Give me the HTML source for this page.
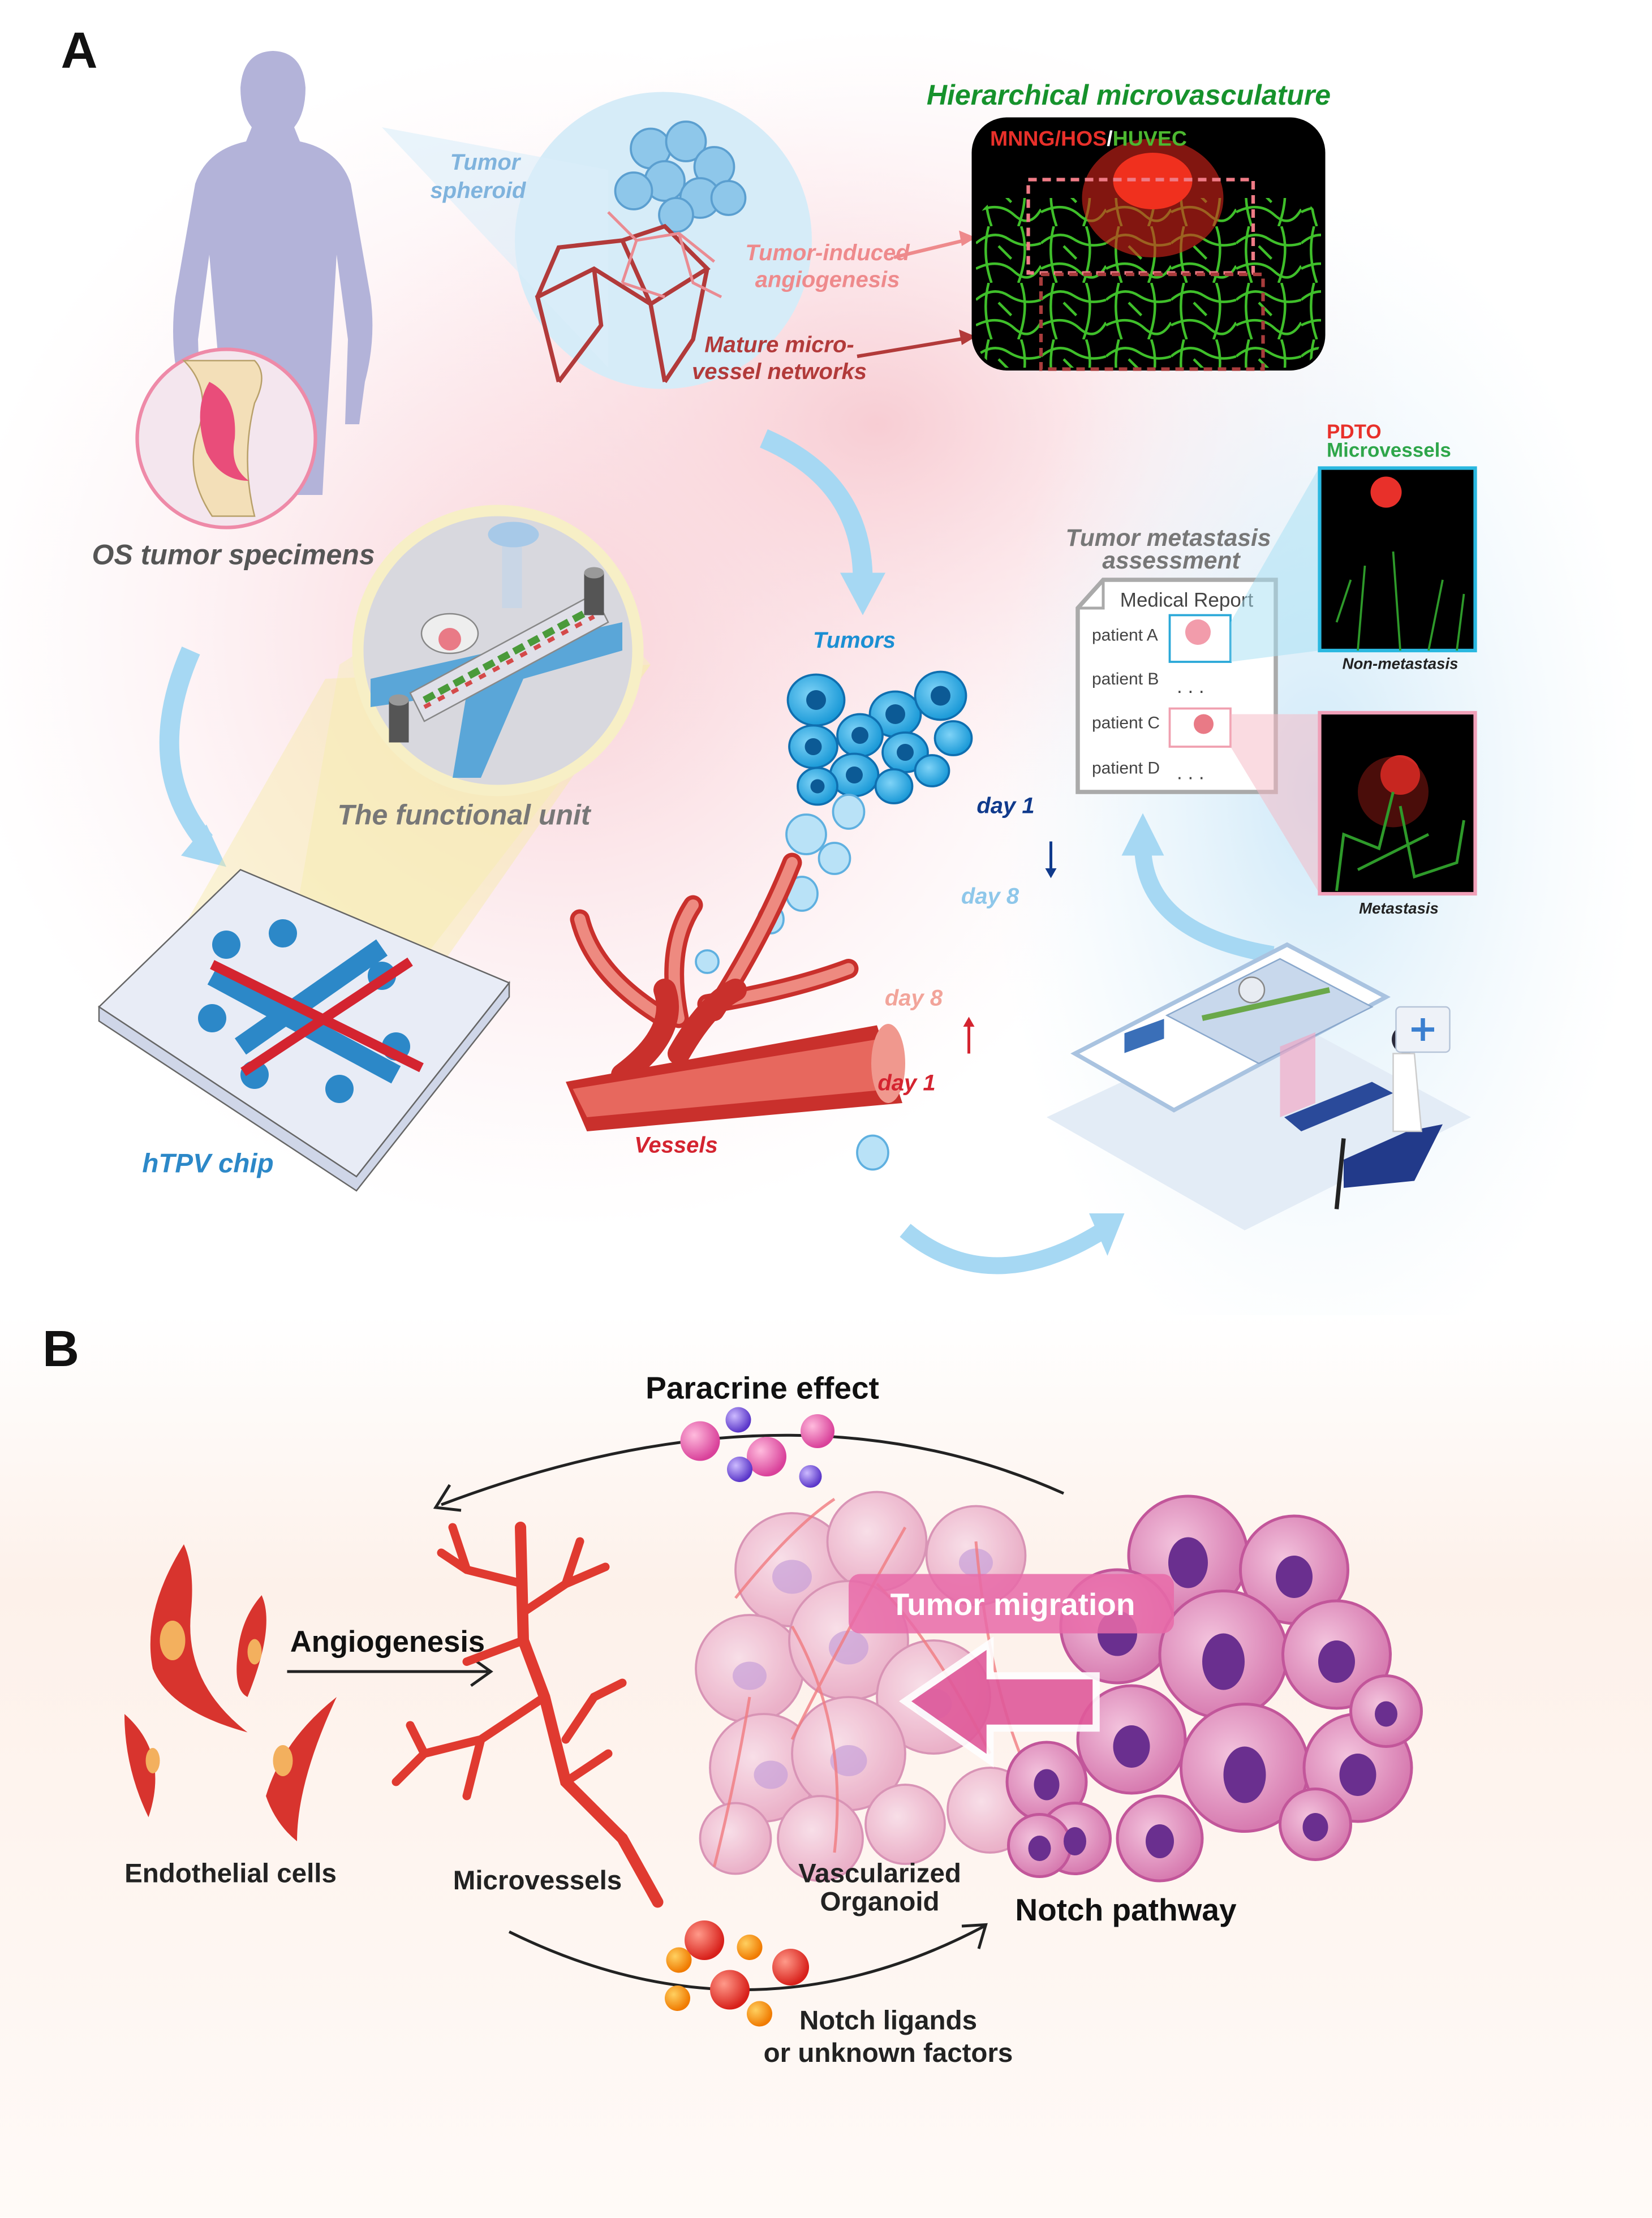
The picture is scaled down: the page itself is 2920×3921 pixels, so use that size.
<!DOCTYPE html>
<html><head><meta charset="utf-8"><style>
html,body{margin:0;padding:0;background:#fff}
svg{display:block}
text{font-family:"Liberation Sans",Arial,sans-serif}
</style></head><body>
<svg width="2920" height="3921" viewBox="0 0 1168 1568.4" xmlns="http://www.w3.org/2000/svg">
<defs>
<radialGradient id="pinkbg" cx="0.5" cy="0.5" r="0.5"><stop offset="0" stop-color="#f7c9d0" stop-opacity="0.9"/><stop offset="1" stop-color="#fde8ec" stop-opacity="0"/></radialGradient>
<radialGradient id="bluebg" cx="0.5" cy="0.5" r="0.5"><stop offset="0" stop-color="#cfe9f8"/><stop offset="1" stop-color="#eaf5fc" stop-opacity="0"/></radialGradient>
<linearGradient id="bbg" x1="0" y1="0" x2="0" y2="1"><stop offset="0" stop-color="#fff"/><stop offset="0.3" stop-color="#fdf1ea"/><stop offset="1" stop-color="#fffaf7"/></linearGradient>
<radialGradient id="cellP" cx="0.4" cy="0.4" r="0.6"><stop offset="0" stop-color="#f3c3dd"/><stop offset="1" stop-color="#d77bb0"/></radialGradient>
<radialGradient id="cellL" cx="0.4" cy="0.4" r="0.6"><stop offset="0" stop-color="#f8dde8"/><stop offset="1" stop-color="#e9a9c4"/></radialGradient>
<radialGradient id="sph1" cx="0.35" cy="0.35" r="0.65"><stop offset="0" stop-color="#fbd"/><stop offset="1" stop-color="#d9419a"/></radialGradient>
<radialGradient id="sph2" cx="0.35" cy="0.35" r="0.65"><stop offset="0" stop-color="#ccbaff"/><stop offset="1" stop-color="#5a36c9"/></radialGradient>
<radialGradient id="sph3" cx="0.35" cy="0.35" r="0.65"><stop offset="0" stop-color="#ff9a8a"/><stop offset="1" stop-color="#d8201a"/></radialGradient>
<radialGradient id="sph4" cx="0.35" cy="0.35" r="0.65"><stop offset="0" stop-color="#ffd060"/><stop offset="1" stop-color="#f07a00"/></radialGradient>
<radialGradient id="blueCell" cx="0.4" cy="0.4" r="0.6"><stop offset="0" stop-color="#7fd3f7"/><stop offset="1" stop-color="#1b9ad8"/></radialGradient>
<pattern id="net" width="46" height="40" patternUnits="userSpaceOnUse">
<path d="M0 12 Q12 2 23 9 T46 12 M9 0 Q4 20 11 40 M32 0 Q38 18 30 40 M0 30 Q16 22 27 32 T46 28 M16 14 L25 23" stroke="#3fbf2a" stroke-width="1.8" fill="none"/>
</pattern>
</defs>

<rect width="1168" height="1568.4" fill="#fff"/>
<ellipse cx="400" cy="450" rx="430" ry="420" fill="url(#pinkbg)"/>
<ellipse cx="620" cy="300" rx="380" ry="280" fill="url(#pinkbg)"/>
<ellipse cx="930" cy="560" rx="230" ry="420" fill="url(#bluebg)"/>
<rect x="0" y="930" width="1168" height="638" fill="url(#bbg)"/>

<text x="43" y="48" font-size="36" font-weight="bold" fill="#111">A</text>
<text x="30" y="966" font-size="36" font-weight="bold" fill="#111">B</text>

<path d="M192 36 q22 0 24 26 q0 18 -8 28 l4 10 q28 6 36 30 l14 80 q4 30 -4 60 l-4 30 l-10 0 l2 -60 l-8 -60 l-4 70 q-4 60 -6 100 l-26 0 l-6 -80 l-10 80 l-30 0 l-2 -100 l-6 -70 l-8 60 l2 60 l-10 0 l-6 -30 q-6 -30 -2 -60 l14 -80 q8 -24 36 -30 l4 -10 q-8 -10 -8 -28 q2 -26 24 -26z" fill="#b3b3d9"/>
<circle cx="160" cy="310" r="63" fill="#f4e6ee" stroke="#ee8aa8" stroke-width="2.5"/>
<path d="M130 255 q20 20 10 50 q-10 30 10 60 l30 0 q-10 -40 0 -80 q10 -20 0 -30z" fill="#f3dfb8" stroke="#b8a06a"/>
<path d="M148 270 q20 10 18 40 q-4 20 10 30 q-20 0 -30 -20 q-10 -30 2 -50z" fill="#e94d7a"/>
<text x="65" y="399" font-size="20" font-style="italic" font-weight="bold" fill="#555">OS tumor specimens</text>

<circle cx="469" cy="170" r="105" fill="#d6ecf8"/>
<path d="M270 90 L430 120 L430 260 Z" fill="#dbeefa" opacity="0.6"/>
<g fill="#8ec7ea" stroke="#5b9fd0" stroke-width="1.5">
<circle cx="460" cy="105" r="14"/><circle cx="485" cy="100" r="14"/><circle cx="505" cy="118" r="14"/><circle cx="470" cy="128" r="14"/><circle cx="448" cy="135" r="13"/><circle cx="495" cy="140" r="14"/><circle cx="515" cy="140" r="12"/><circle cx="478" cy="152" r="12"/>
</g>
<g fill="none" stroke="#b23a3a" stroke-width="3">
<path d="M395 270 L380 210 L420 190 L460 215 L470 270 M380 210 L395 175 L440 170 L460 215 M440 170 L470 160 L500 190 L460 215 M500 190 L490 240 L470 270 M420 190 L425 230 L395 270"/>
</g>
<g fill="none" stroke="#ea8b92" stroke-width="2">
<path d="M430 150 L450 170 L480 165 L505 185 M450 170 L440 200 M480 165 L490 200 L510 210 M440 200 L470 210"/>
</g>
<text x="343" y="120" font-size="16" font-style="italic" font-weight="bold" fill="#7fb3dd" text-anchor="middle">Tumor</text>
<text x="338" y="140" font-size="16" font-style="italic" font-weight="bold" fill="#7fb3dd" text-anchor="middle">spheroid</text>
<text x="585" y="184" font-size="16" font-style="italic" font-weight="bold" fill="#ee8a8c" text-anchor="middle">Tumor-induced</text>
<text x="585" y="203" font-size="16" font-style="italic" font-weight="bold" fill="#ee8a8c" text-anchor="middle">angiogenesis</text>
<text x="551" y="249" font-size="16" font-style="italic" font-weight="bold" fill="#b23a3a" text-anchor="middle">Mature micro-</text>
<text x="551" y="268" font-size="16" font-style="italic" font-weight="bold" fill="#b23a3a" text-anchor="middle">vessel networks</text>
<path d="M632 182 L690 168" stroke="#ee8a8c" stroke-width="2.5"/><path d="M690 168 l-12 -5 l2 11z" fill="#ee8a8c"/>
<path d="M606 252 L690 238" stroke="#b23a3a" stroke-width="2.5"/><path d="M690 238 l-12 -5 l2 11z" fill="#b23a3a"/>

<text x="798" y="74" font-size="20" font-style="italic" font-weight="bold" fill="#16922c" text-anchor="middle">Hierarchical microvasculature</text>
<rect x="687" y="83" width="250" height="179" rx="25" fill="#000"/>
<rect x="690" y="140" width="244" height="120" rx="22" fill="url(#net)"/>
<ellipse cx="815" cy="140" rx="50" ry="42" fill="#d8241a" opacity="0.6"/>
<ellipse cx="815" cy="128" rx="28" ry="20" fill="#f0301e"/>
<rect x="727" y="127" width="159" height="66" fill="none" stroke="#ef7b86" stroke-width="2.5" stroke-dasharray="6 4"/>
<rect x="736" y="194" width="157" height="67" fill="none" stroke="#a83c3c" stroke-width="2.5" stroke-dasharray="6 4"/>
<text x="700" y="103" font-size="15" font-weight="bold" fill="#e8302a">MNNG/HOS<tspan fill="#fff">/</tspan><tspan fill="#4cb830">HUVEC</tspan></text>

<path d="M540 310 Q610 340 610 410" stroke="#a6d8f3" stroke-width="14" fill="none"/><path d="M594 405 l16 30 l16 -30z" fill="#a6d8f3"/>
<path d="M135 460 Q100 540 145 595" stroke="#a6d8f3" stroke-width="14" fill="none"/><path d="M128 605 l32 8 l-14 -30z" fill="#a6d8f3"/>
<path d="M640 870 Q700 920 780 870" stroke="#a6d8f3" stroke-width="12" fill="none"/><path d="M770 858 l25 0 l-12 30z" fill="#a6d8f3"/>
<path d="M900 675 Q810 660 808 600" stroke="#a6d8f3" stroke-width="12" fill="none"/><path d="M793 605 l15 -30 l15 30z" fill="#a6d8f3"/>

<path d="M240 470 L380 380 L460 470 L290 690 L200 700Z" fill="#f7eec0" opacity="0.6"/>
<path d="M230 480 L110 690 L300 700 L460 470Z" fill="#f6eaa8" opacity="0.45"/>
<circle cx="352" cy="460" r="103" fill="#f7efc6"/>
<circle cx="352" cy="460" r="95" fill="#d8d8de"/>
<path d="M262 480 L440 440 L440 460 L370 480 L340 550 L320 550 L330 490 L262 500Z" fill="#5aa6d8"/>
<path d="M290 490 L420 420 L430 440 L300 510Z" fill="#e0e0e8" stroke="#888"/>
<path d="M300 495 L420 430" stroke="#4a9a3a" stroke-width="5" stroke-dasharray="8 4"/>
<path d="M300 500 L420 436" stroke="#d44a4a" stroke-width="3" stroke-dasharray="5 6"/>
<rect x="355" y="380" width="14" height="50" fill="#c9d6e6"/><ellipse cx="363" cy="378" rx="18" ry="9" fill="#a7c9e8"/>
<rect x="275" y="495" width="14" height="30" fill="#555"/><ellipse cx="282" cy="495" rx="7" ry="4" fill="#999"/>
<rect x="413" y="405" width="14" height="30" fill="#555"/><ellipse cx="420" cy="405" rx="7" ry="4" fill="#999"/>
<ellipse cx="318" cy="448" rx="20" ry="14" fill="#eee" stroke="#888"/><circle cx="318" cy="452" r="8" fill="#e97a86"/>
<text x="328" y="583" font-size="20" font-style="italic" font-weight="bold" fill="#777" text-anchor="middle">The functional unit</text>

<path d="M70 712 L170 615 L360 695 L252 832 Z" fill="#e8ecf6" stroke="#666" stroke-width="1"/>
<path d="M70 712 L70 722 L252 842 L360 705 L360 695 L252 832Z" fill="#cfd6e8" stroke="#666"/>
<g stroke="#2c88c8" stroke-width="14" fill="none"><path d="M150 690 L280 760 M170 740 L270 670"/></g>
<g fill="#2c88c8"><circle cx="160" cy="668" r="10"/><circle cx="200" cy="660" r="10"/><circle cx="270" cy="690" r="10"/><circle cx="280" cy="740" r="10"/><circle cx="180" cy="760" r="10"/><circle cx="240" cy="770" r="10"/><circle cx="150" cy="720" r="10"/></g>
<g stroke="#d42430" stroke-width="7" fill="none"><path d="M150 682 L298 755 M172 758 L290 680"/></g>
<text x="147" y="829" font-size="19" font-style="italic" font-weight="bold" fill="#2c88c8" text-anchor="middle">hTPV chip</text>

<text x="604" y="458" font-size="16" font-style="italic" font-weight="bold" fill="#1b8fd3" text-anchor="middle">Tumors</text>
<g fill="url(#blueCell)" stroke="#0f6fb0" stroke-width="1.5">
<ellipse cx="577" cy="495" rx="20" ry="18"/><ellipse cx="633" cy="505" rx="18" ry="16"/><ellipse cx="665" cy="492" rx="18" ry="17"/><ellipse cx="608" cy="520" rx="16" ry="15"/><ellipse cx="575" cy="528" rx="17" ry="15"/><ellipse cx="640" cy="532" rx="16" ry="14"/><ellipse cx="674" cy="522" rx="13" ry="12"/><ellipse cx="604" cy="548" rx="17" ry="15"/><ellipse cx="578" cy="556" rx="14" ry="13"/><ellipse cx="632" cy="556" rx="13" ry="12"/><ellipse cx="659" cy="545" rx="12" ry="11"/>
</g>
<g fill="#0c5a95"><circle cx="577" cy="495" r="7"/><circle cx="633" cy="505" r="7"/><circle cx="665" cy="492" r="7"/><circle cx="608" cy="520" r="6"/><circle cx="575" cy="528" r="6"/><circle cx="640" cy="532" r="6"/><circle cx="604" cy="548" r="6"/><circle cx="578" cy="556" r="5"/></g>
<g fill="#b9e2f7" stroke="#5fb0e0" stroke-width="1.5">
<ellipse cx="600" cy="574" rx="11" ry="12"/><ellipse cx="570" cy="590" rx="14" ry="14"/><ellipse cx="590" cy="607" rx="11" ry="11"/><ellipse cx="567" cy="632" rx="11" ry="12"/><ellipse cx="545" cy="650" rx="9" ry="10"/><ellipse cx="500" cy="680" rx="8" ry="8"/><ellipse cx="617" cy="815" rx="11" ry="12"/>
</g>
<g fill="none" stroke-linecap="round">
<path d="M470 720 Q420 690 410 650 M480 720 Q470 670 490 640 M505 715 Q540 660 560 610 M500 710 Q560 700 600 685" stroke="#c9302c" stroke-width="14"/>
<path d="M470 720 Q420 690 410 650 M480 720 Q470 670 490 640 M505 715 Q540 660 560 610 M500 710 Q560 700 600 685" stroke="#ee8a80" stroke-width="8"/>
<path d="M440 760 Q480 730 470 700 M480 745 Q500 710 520 700" stroke="#c9302c" stroke-width="16"/>
</g>
<path d="M400 765 L620 725 L638 780 L415 800 Z" fill="#c9302c"/>
<path d="M405 770 L620 735 L632 770 L415 790 Z" fill="#e7685e"/>
<ellipse cx="628" cy="752" rx="12" ry="28" fill="#f0988e"/>
<text x="478" y="815" font-size="16" font-style="italic" font-weight="bold" fill="#d42430" text-anchor="middle">Vessels</text>
<text x="711" y="575" font-size="16" font-style="italic" font-weight="bold" fill="#103a8c" text-anchor="middle">day 1</text>
<text x="700" y="639" font-size="16" font-style="italic" font-weight="bold" fill="#8ec7ea" text-anchor="middle">day 8</text>
<text x="646" y="711" font-size="16" font-style="italic" font-weight="bold" fill="#f2a49a" text-anchor="middle">day 8</text>
<text x="641" y="771" font-size="16" font-style="italic" font-weight="bold" fill="#d42430" text-anchor="middle">day 1</text>
<path d="M743 595 L743 618" stroke="#103a8c" stroke-width="2"/><path d="M739 614 l4 7 l4 -7z" fill="#103a8c"/>
<path d="M685 722 L685 745" stroke="#d42430" stroke-width="2"/><path d="M681 726 l4 -7 l4 7z" fill="#d42430"/>

<text x="826" y="386" font-size="17" font-style="italic" font-weight="bold" fill="#777" text-anchor="middle">Tumor metastasis</text>
<text x="828" y="402" font-size="17" font-style="italic" font-weight="bold" fill="#777" text-anchor="middle">assessment</text>
<path d="M780 410 L902 410 L902 560 L762 560 L762 430 Z" fill="#fff" stroke="#aaa" stroke-width="3"/>
<path d="M762 430 L780 430 L780 410" fill="none" stroke="#aaa" stroke-width="2"/>
<text x="839" y="429" font-size="14" fill="#444" text-anchor="middle">Medical Report</text>
<text x="772" y="453" font-size="12" fill="#444">patient A</text>
<text x="772" y="484" font-size="12" fill="#444">patient B</text>
<text x="772" y="515" font-size="12" fill="#444">patient C</text>
<text x="772" y="547" font-size="12" fill="#444">patient D</text>
<text x="832" y="490" font-size="14" fill="#444">. . .</text>
<text x="832" y="551" font-size="14" fill="#444">. . .</text>
<rect x="827" y="435" width="43" height="33" fill="#fff" stroke="#2aa8d8" stroke-width="1.5"/><circle cx="847" cy="447" r="9" fill="#f29cab"/>
<rect x="827" y="501" width="43" height="27" fill="#fff" stroke="#f0a0b0" stroke-width="1.5"/><circle cx="851" cy="512" r="7" fill="#e97a86"/>
<path d="M870 440 L933 330 L933 460 L870 468Z" fill="#a6dff3" opacity="0.5"/>
<path d="M870 505 L933 505 L933 632 L870 528Z" fill="#f5b8c3" opacity="0.5"/>
<text x="938" y="310" font-size="14" font-weight="bold" fill="#e8302a">PDTO</text>
<text x="938" y="323" font-size="14" font-weight="bold" fill="#2ea64a">Microvessels</text>
<rect x="933" y="331" width="110" height="129" fill="#000" stroke="#2ab8e0" stroke-width="2.5"/>
<circle cx="980" cy="348" r="11" fill="#e8302a"/>
<path d="M960 460 L965 400 M990 460 L985 390 M1010 460 L1020 410 M945 440 L955 410 M1030 460 L1035 420" stroke="#2e9a2a" stroke-width="1.5"/>
<text x="990" y="473" font-size="11" font-style="italic" font-weight="bold" fill="#222" text-anchor="middle">Non-metastasis</text>
<rect x="933" y="504" width="110" height="128" fill="#000" stroke="#f0a0b8" stroke-width="2.5"/>
<circle cx="990" cy="548" r="14" fill="#e8302a" opacity="0.9"/><circle cx="985" cy="560" r="25" fill="#b8201a" opacity="0.4"/>
<path d="M945 630 L950 590 L975 600 L985 560 M990 570 L1000 620 L1030 610 L1035 580 M960 615 L1010 590" stroke="#2e9a2a" stroke-width="2" fill="none"/>
<text x="989" y="646" font-size="11" font-style="italic" font-weight="bold" fill="#222" text-anchor="middle">Metastasis</text>

<path d="M740 790 L900 715 L1040 790 L880 870Z" fill="#e3ecf6"/>
<path d="M760 745 L910 668 L980 705 L830 785Z" fill="#fff" stroke="#a9c3e0" stroke-width="3"/>
<path d="M825 718 L905 678 L970 712 L890 752Z" fill="#c8d8ec" stroke="#8aa8cc"/>
<circle cx="885" cy="700" r="9" fill="#e8ecf2" stroke="#888"/>
<path d="M850 720 L940 700" stroke="#6aa84a" stroke-width="4"/>
<rect x="795" y="730" width="28" height="14" fill="#3a6fb8" transform="skewY(-20) translate(0 290)"/>
<path d="M905 740 L930 730 L930 780 L905 790Z" fill="#f4a0c0" opacity="0.6"/>
<path d="M908 790 L970 765 L985 773 L920 800Z" fill="#2a4a9a"/>
<path d="M950 820 L995 800 L1020 795 L1000 835 L950 840Z" fill="#223a8a"/>
<circle cx="994" cy="735" r="10" fill="#2a2a3a"/>
<path d="M985 745 L1000 745 L1005 800 L985 800Z" fill="#fff" stroke="#ccc"/>
<path d="M950 805 L945 855" stroke="#222" stroke-width="3"/>
<rect x="987" y="712" width="38" height="32" rx="3" fill="#eef2f8" stroke="#b6c4d8"/><path d="M1006 720 v16 M998 728 h16" stroke="#3a7fd0" stroke-width="3"/>

<text x="539" y="989" font-size="22" font-weight="bold" fill="#111" text-anchor="middle">Paracrine effect</text>
<path d="M752 1056 Q560 970 312 1064" fill="none" stroke="#222" stroke-width="2"/>
<path d="M318 1050 L308 1066 L326 1068" fill="none" stroke="#222" stroke-width="2"/>
<circle cx="495" cy="1019" r="14" fill="url(#sph1)"/><circle cx="542" cy="1030" r="14" fill="url(#sph1)"/><circle cx="578" cy="1012" r="12" fill="url(#sph1)"/>
<circle cx="522" cy="1004" r="9" fill="url(#sph2)"/><circle cx="523" cy="1039" r="9" fill="url(#sph2)"/><circle cx="573" cy="1044" r="8" fill="url(#sph2)"/>

<g fill="#d8342e">
<path d="M130 1092 Q100 1140 108 1180 Q120 1210 175 1225 Q130 1190 135 1140 Q138 1110 130 1092Z"/>
<path d="M185 1128 Q195 1150 175 1200 Q165 1195 168 1170 Q170 1145 185 1128Z"/>
<path d="M88 1212 Q120 1240 105 1285 Q88 1250 88 1212Z"/>
<path d="M238 1200 Q200 1230 188 1270 Q195 1290 210 1302 Q210 1260 238 1200Z"/>
</g>
<g fill="#f3b05e"><ellipse cx="122" cy="1160" rx="9" ry="14"/><ellipse cx="180" cy="1168" rx="5" ry="9"/><ellipse cx="108" cy="1245" rx="5" ry="9"/><ellipse cx="200" cy="1245" rx="7" ry="11"/></g>
<text x="163" y="1331" font-size="19" font-weight="bold" fill="#222" text-anchor="middle">Endothelial cells</text>
<text x="274" y="1168" font-size="21" font-weight="bold" fill="#111" text-anchor="middle">Angiogenesis</text>
<path d="M203 1182 L345 1182" stroke="#222" stroke-width="2"/><path d="M333 1172 L347 1182 L333 1192" fill="none" stroke="#222" stroke-width="2"/>

<g stroke="#e03a30" fill="none" stroke-linecap="round">
<path d="M368 1080 L370 1160 L385 1200 L400 1260 L440 1300 L465 1345" stroke-width="8"/>
<path d="M370 1120 L330 1110 L312 1098 M370 1140 L400 1120 L428 1108 M370 1160 L330 1175 M385 1200 L340 1230 L300 1240 L280 1260 M340 1230 L330 1270 M400 1260 L430 1240 M400 1230 L420 1200 L440 1190 M330 1110 L320 1080 M400 1120 L410 1090 M300 1240 L290 1220" stroke-width="6"/>
</g>
<text x="380" y="1336" font-size="19" font-weight="bold" fill="#222" text-anchor="middle">Microvessels</text>

<g stroke="#d58ab0" stroke-width="1.5" fill="url(#cellL)" opacity="0.9">
<circle cx="560" cy="1110" r="40"/><circle cx="620" cy="1090" r="35"/><circle cx="690" cy="1100" r="35"/><circle cx="530" cy="1180" r="38"/><circle cx="600" cy="1160" r="42"/><circle cx="660" cy="1200" r="40"/><circle cx="540" cy="1250" r="38"/><circle cx="600" cy="1240" r="40"/><circle cx="520" cy="1300" r="25"/><circle cx="580" cy="1300" r="30"/><circle cx="640" cy="1290" r="28"/><circle cx="700" cy="1280" r="30"/>
</g>
<g fill="#c8a0d8" opacity="0.7"><ellipse cx="560" cy="1115" rx="14" ry="12"/><ellipse cx="600" cy="1165" rx="14" ry="12"/><ellipse cx="530" cy="1185" rx="12" ry="10"/><ellipse cx="660" cy="1205" rx="13" ry="11"/><ellipse cx="545" cy="1255" rx="12" ry="10"/><ellipse cx="600" cy="1245" rx="13" ry="11"/><ellipse cx="690" cy="1105" rx="12" ry="10"/></g>
<g stroke="#f07a80" stroke-width="2" fill="none" opacity="0.8">
<path d="M520 1130 Q560 1080 590 1060 M530 1200 Q520 1260 505 1320 M560 1150 Q600 1220 590 1310 M620 1120 Q660 1160 700 1240 M640 1080 Q600 1150 560 1230 M690 1090 Q700 1200 730 1260"/>
</g>
<g stroke="#c2569a" stroke-width="2" fill="url(#cellP)">
<circle cx="840" cy="1100" r="42"/><circle cx="915" cy="1110" r="38"/><circle cx="790" cy="1150" r="40"/><circle cx="865" cy="1170" r="45"/><circle cx="945" cy="1170" r="38"/><circle cx="800" cy="1230" r="38"/><circle cx="880" cy="1250" r="45"/><circle cx="960" cy="1250" r="38"/><circle cx="740" cy="1260" r="28"/><circle cx="760" cy="1300" r="25"/><circle cx="735" cy="1305" r="22"/><circle cx="820" cy="1300" r="30"/><circle cx="930" cy="1290" r="25"/><circle cx="980" cy="1210" r="25"/>
</g>
<g fill="#6a2f8f"><ellipse cx="840" cy="1105" rx="14" ry="18"/><ellipse cx="915" cy="1115" rx="13" ry="15"/><ellipse cx="790" cy="1155" rx="14" ry="16"/><ellipse cx="865" cy="1175" rx="15" ry="20"/><ellipse cx="945" cy="1175" rx="13" ry="15"/><ellipse cx="800" cy="1235" rx="13" ry="15"/><ellipse cx="880" cy="1255" rx="15" ry="20"/><ellipse cx="960" cy="1255" rx="13" ry="15"/><ellipse cx="740" cy="1262" rx="9" ry="11"/><ellipse cx="760" cy="1302" rx="8" ry="10"/><ellipse cx="735" cy="1307" rx="8" ry="9"/><ellipse cx="820" cy="1302" rx="10" ry="12"/><ellipse cx="930" cy="1292" rx="9" ry="10"/><ellipse cx="980" cy="1212" rx="8" ry="9"/></g>
<rect x="600" y="1113" width="230" height="42" rx="8" fill="#e86aa8" opacity="0.85"/>
<text x="716" y="1142" font-size="22" font-weight="bold" fill="#fff" text-anchor="middle">Tumor migration</text>
<path d="M640 1203 L700 1162 L700 1185 L775 1185 L775 1222 L700 1222 L700 1245Z" fill="#e05a9a" stroke="#fff" stroke-width="5" opacity="0.9"/>
<text x="622" y="1331" font-size="19" font-weight="bold" fill="#222" text-anchor="middle">Vascularized</text>
<text x="622" y="1351" font-size="19" font-weight="bold" fill="#222" text-anchor="middle">Organoid</text>
<text x="796" y="1358" font-size="22" font-weight="bold" fill="#111" text-anchor="middle">Notch pathway</text>

<path d="M360 1366 Q530 1450 696 1362" fill="none" stroke="#222" stroke-width="2"/>
<path d="M680 1362 L697 1361 L692 1378" fill="none" stroke="#222" stroke-width="2"/>
<circle cx="498" cy="1372" r="14" fill="url(#sph3)"/><circle cx="559" cy="1391" r="13" fill="url(#sph3)"/><circle cx="516" cy="1407" r="14" fill="url(#sph3)"/>
<circle cx="530" cy="1377" r="9" fill="url(#sph4)"/><circle cx="480" cy="1386" r="9" fill="url(#sph4)"/><circle cx="479" cy="1413" r="9" fill="url(#sph4)"/><circle cx="537" cy="1424" r="9" fill="url(#sph4)"/>
<text x="628" y="1435" font-size="19" font-weight="bold" fill="#222" text-anchor="middle">Notch ligands</text>
<text x="628" y="1458" font-size="19" font-weight="bold" fill="#222" text-anchor="middle">or unknown factors</text>
</svg>
</body></html>
